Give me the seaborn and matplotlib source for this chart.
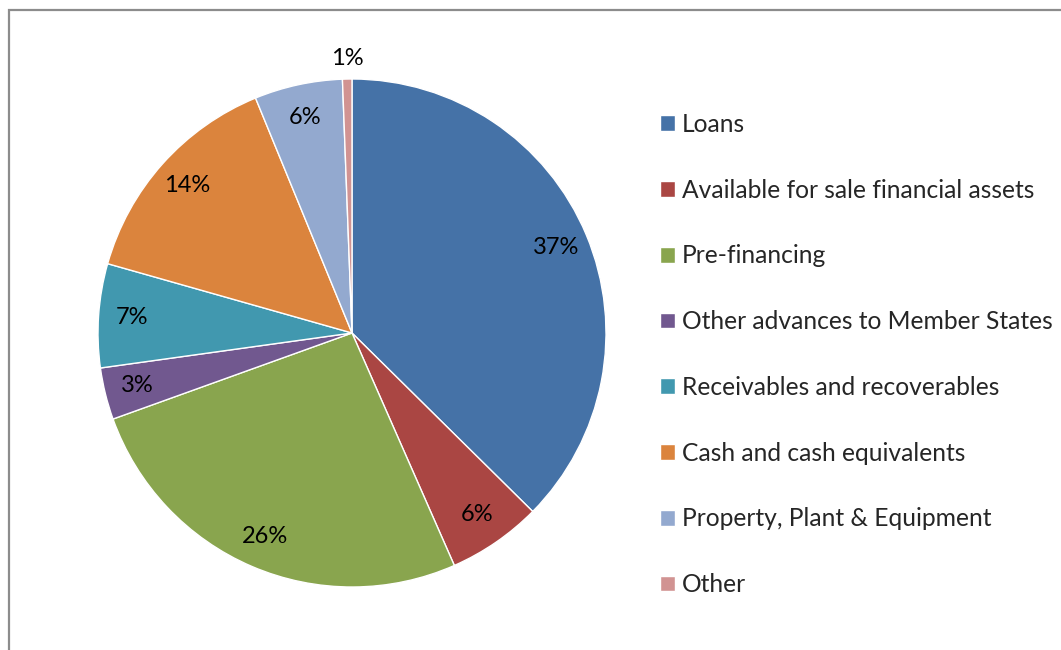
import matplotlib
matplotlib.use("Agg")
import matplotlib.pyplot as plt
import seaborn as sns
import numpy as np
from matplotlib.patches import Rectangle

categories = ["Loans", "Available for sale financial assets", "Pre-financing",
              "Other advances to Member States", "Receivables and recoverables",
              "Cash and cash equivalents", "Property, Plant & Equipment", "Other"]
shares = [37.4, 6.0, 26.1, 3.3, 6.6, 14.4, 5.6, 0.6]
colors = ["#4572A7", "#AA4643", "#89A54E", "#71588F", "#4198AF", "#DB843D", "#93A9CF", "#D19392"]

sns.set_theme(style="white")
plt.rcParams['font.family'] = ['Lato', 'DejaVu Sans']
palette = sns.color_palette(colors)

W, H = 1061, 650
fig = plt.figure(figsize=(W / 100, H / 100), dpi=100)
fig.patch.set_facecolor("white")

# outer frame
fig.add_artist(Rectangle((9 / W, -0.1), 1.2, (H - 10) / H + 0.1, transform=fig.transFigure,
                         fill=False, edgecolor="#8c8c8c", linewidth=1.6))

cx, cy, r = 352, 333, 254
ax = fig.add_axes([(cx - r) / W, (H - cy - r) / H, 2 * r / W, 2 * r / H])
wedges, texts, autotexts = ax.pie(shares, colors=palette, startangle=90, counterclock=False,
                                  autopct='%.0f%%', pctdistance=0.87,
                                  wedgeprops=dict(edgecolor="white", linewidth=1),
                                  textprops=dict(fontsize=17, color="black"))
ax.set_aspect("equal")
ax.set_xlim(-1, 1)
ax.set_ylim(-1, 1)
ax.axis("off")
# smallest slice label outside
w = wedges[-1]
mid = np.deg2rad((w.theta1 + w.theta2) / 2)
autotexts[-1].set_position((1.08 * np.cos(mid), 1.08 * np.sin(mid)))
for t in autotexts:
    t.set_clip_on(False)

leg = fig.legend(wedges, categories, loc="upper left", bbox_to_anchor=(650 / W, (H - 103) / H),
                 frameon=False, fontsize=17.7, handlelength=0.61, handleheight=0.61,
                 handletextpad=0.28, labelspacing=1.74, borderaxespad=0)

fig.savefig("out.png", dpi=100, facecolor="white")
